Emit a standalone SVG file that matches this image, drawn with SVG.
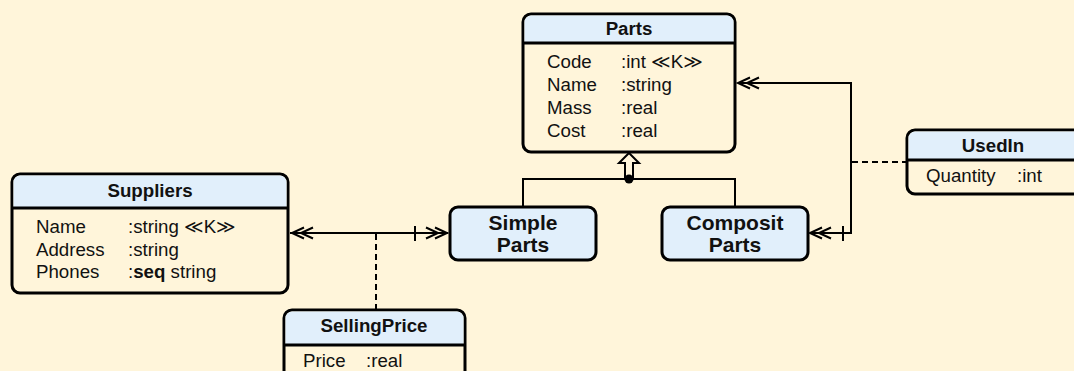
<svg xmlns="http://www.w3.org/2000/svg" width="1074" height="371" viewBox="0 0 1074 371">
<style>
.box{fill:#fff5da;stroke:#000;stroke-width:3}
.hdr{fill:#e1effb}
.sub{fill:#e1effb;stroke:#000;stroke-width:3}
.div{stroke:#000;stroke-width:3}
.t{font-family:"Liberation Sans",Arial,"DejaVu Sans",sans-serif;font-size:18.7px;fill:#111}
.b{font-weight:bold}
.c{text-anchor:middle}
.big{font-size:21px}
.ln{fill:none;stroke:#000;stroke-width:2}
.dash{fill:none;stroke:#000;stroke-width:2;stroke-dasharray:6,4}
</style>
<rect width="1074" height="371" fill="#fff5da"/>
<g id="parts">
<rect class="box" x="523" y="14" width="212" height="138" rx="8"/>
<path class="hdr" d="M531,15.5 H727 A6.5,6.5 0 0 1 733.5,22 V43 H524.5 V22 A6.5,6.5 0 0 1 531,15.5 Z"/>
<line class="div" x1="523" y1="43" x2="735" y2="43"/>
<text class="t b c" x="629" y="35">Parts</text>
<text class="t" x="547" y="68">Code</text><text class="t" x="621" y="68">:int ≪K≫</text>
<text class="t" x="547" y="91">Name</text><text class="t" x="621" y="91">:string</text>
<text class="t" x="547" y="114">Mass</text><text class="t" x="621" y="114">:real</text>
<text class="t" x="547" y="137">Cost</text><text class="t" x="621" y="137">:real</text>
</g>
<g id="suppliers">
<rect class="box" x="12" y="174" width="276" height="119" rx="8"/>
<path class="hdr" d="M20,175.5 H280 A6.5,6.5 0 0 1 286.5,182 V208 H13.5 V182 A6.5,6.5 0 0 1 20,175.5 Z"/>
<line class="div" x1="12" y1="208" x2="288" y2="208"/>
<text class="t b c" x="150" y="197">Suppliers</text>
<text class="t" x="36" y="233">Name</text><text class="t" x="128" y="233">:string ≪K≫</text>
<text class="t" x="36" y="256">Address</text><text class="t" x="128" y="256">:string</text>
<text class="t" x="36" y="278">Phones</text><text class="t" x="128" y="278">:<tspan class="b">seq</tspan> string</text>
</g>
<g id="sellingprice">
<rect class="box" x="284" y="310" width="181" height="75" rx="8"/>
<path class="hdr" d="M292,311.5 H457 A6.5,6.5 0 0 1 463.5,318 V345 H285.5 V318 A6.5,6.5 0 0 1 292,311.5 Z"/>
<line class="div" x1="284" y1="345" x2="465" y2="345"/>
<text class="t b c" x="374" y="332">SellingPrice</text>
<text class="t" x="303" y="367">Price</text><text class="t" x="366" y="367">:real</text>
</g>
<g id="usedin">
<rect class="box" x="907" y="130" width="185" height="64" rx="8"/>
<path class="hdr" d="M915,131.5 H1084 A6.5,6.5 0 0 1 1090.5,138 V160 H908.5 V138 A6.5,6.5 0 0 1 915,131.5 Z"/>
<line class="div" x1="907" y1="160" x2="1092" y2="160"/>
<text class="t b c" x="993" y="152">UsedIn</text>
<text class="t" x="926" y="182">Quantity</text><text class="t" x="1017" y="182">:int</text>
</g>
<g id="simpleparts">
<rect class="sub" x="450" y="207" width="146" height="53" rx="8"/>
<text class="t b c big" x="523" y="230">Simple</text>
<text class="t b c big" x="523" y="252">Parts</text>
</g>
<g id="compositparts">
<rect class="sub" x="662" y="207" width="146" height="53" rx="8"/>
<text class="t b c big" x="735" y="230">Composit</text>
<text class="t b c big" x="735" y="252">Parts</text>
</g>
<g id="connectors">
<path class="ln" d="M290,233 H448"/>
<path class="ln" d="M304,227.5 L292,233 L304,238.5 M313,227.5 L301,233 L313,238.5"/>
<path class="ln" d="M435,227.5 L447,233 L435,238.5 M426,227.5 L438,233 L426,238.5 M415,226 V241"/>
<path class="dash" d="M376,234 V310"/>
<path class="ln" d="M738,83 H851 V233 H810"/>
<path class="ln" d="M750,77.5 L738,83 L750,88.5 M759,77.5 L747,83 L759,88.5"/>
<path class="ln" d="M822,227.5 L810,233 L822,238.5 M831,227.5 L819,233 L831,238.5 M843,226 V241"/>
<path class="dash" d="M852,162 H907"/>
<path class="ln" d="M523,207 V179 H735 V207"/>
<polygon points="629,153 639,163 633,163 633,178 625,178 625,163 619,163" fill="#fff5da" stroke="#000" stroke-width="2" stroke-linejoin="miter"/>
<circle cx="629" cy="179" r="4.5" fill="#000"/>
</g>
</svg>
